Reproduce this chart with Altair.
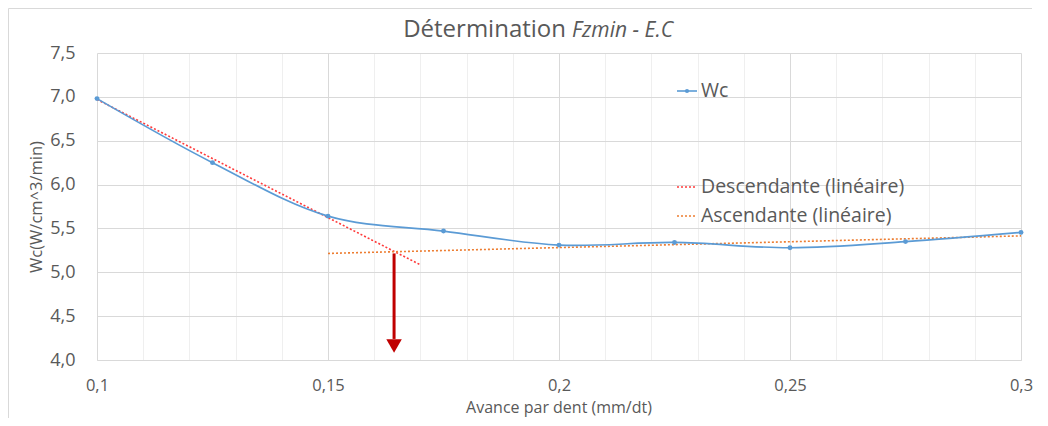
import altair as alt
import pandas as pd

# ---- data ----
x_vals = [0.1, 0.125, 0.15, 0.175, 0.2, 0.225, 0.25, 0.275, 0.3]
wc_vals = [6.98, 6.25, 5.64, 5.47, 5.31, 5.34, 5.28, 5.35, 5.455]

desc_x = [0.1, 0.17]
desc_y = [6.97, 5.085]
asc_x = [0.15, 0.3]
asc_y = [5.215, 5.415]

arrow_x = [0.1643]
arrow_top = [5.215]
arrow_bottom = [4.24]
arrow_head = [4.16]

x_ticks = [0.1, 0.11, 0.12, 0.13, 0.14, 0.15, 0.16, 0.17, 0.18, 0.19, 0.2,
           0.21, 0.22, 0.23, 0.24, 0.25, 0.26, 0.27, 0.28, 0.29, 0.3]
y_ticks = [4.0, 4.5, 5.0, 5.5, 6.0, 6.5, 7.0, 7.5]

title_main = "Détermination"
title_italic = "Fzmin - E.C"
x_title = "Avance par dent (mm/dt)"
y_title = "Wc(W/cm^3/min)"
legend_labels = ["Wc", "Descendante (linéaire)", "Ascendante (linéaire)"]

FONT = "Open Sans"
TXT = "#595959"
BLUE = "#5B9BD5"
RED = "#FF3B3B"
ORANGE = "#ED7D31"
DARKRED = "#C00000"

df_wc = pd.DataFrame({"x": x_vals, "y": wc_vals})
df_desc = pd.DataFrame({"x": desc_x, "y": desc_y})
df_asc = pd.DataFrame({"x": asc_x, "y": asc_y})
df_arrow = pd.DataFrame({"x": arrow_x, "y": arrow_top, "y2": arrow_bottom, "yh": arrow_head})

major_test = "abs(datum.value*20 - round(datum.value*20)) < 0.001"

xscale = alt.Scale(domain=[0.1, 0.3], nice=False, zero=False)
yscale = alt.Scale(domain=[4.0, 7.5], nice=False, zero=False)

xaxis = alt.Axis(
    values=x_ticks,
    labelExpr=f"({major_test}) ? replace(toString(datum.value), '.', ',') : ''",
    gridColor={"condition": {"test": major_test, "value": "#d9d9d9"}, "value": "#efefef"},
    ticks=False,
    domainColor="#d9d9d9",
    labelFont=FONT, labelFontSize=16.5, labelColor=TXT, labelPadding=17,
    title=None,
    labelFlush=False,
)
yaxis = alt.Axis(
    values=y_ticks,
    labelExpr="replace(format(datum.value, '.1f'), '.', ',')",
    gridColor="#d9d9d9",
    ticks=False, domain=False,
    labelFont=FONT, labelFontSize=18, labelColor=TXT, labelPadding=22,
    title=y_title, titleFont=FONT, titleFontSize=16.5, titleColor=TXT,
    titleFontWeight="normal", titlePadding=5,
)

X = alt.X("x:Q", scale=xscale, axis=xaxis)
Y = alt.Y("y:Q", scale=yscale, axis=yaxis)

wc_line = alt.Chart(df_wc).mark_line(
    interpolate="catmull-rom", color=BLUE, strokeWidth=1.7
).encode(x=X, y=Y)
wc_pts = alt.Chart(df_wc).mark_point(
    filled=True, color=BLUE, size=24, opacity=1
).encode(x=X, y=Y)

desc_line = alt.Chart(df_desc).mark_line(
    color=RED, strokeWidth=1.6, strokeDash=[2, 2]
).encode(x=X, y=Y)
asc_line = alt.Chart(df_asc).mark_line(
    color=ORANGE, strokeWidth=1.6, strokeDash=[2, 2]
).encode(x=X, y=Y)

arrow_rule = alt.Chart(df_arrow).mark_rule(color=DARKRED, strokeWidth=3).encode(
    x=X, y=Y, y2="y2:Q"
)
arrow_tip = alt.Chart(df_arrow).mark_point(
    shape="triangle-down", filled=True, color=DARKRED, size=240, opacity=1
).encode(x=X, y=alt.Y("yh:Q", scale=yscale, axis=yaxis))

one = pd.DataFrame({"a": [0]})

# chart border (top and left edges visible in the reference)
border_top = alt.Chart(one).mark_rule(color="#d9d9d9", strokeWidth=1).encode(
    x=alt.value(-88.5), x2=alt.value(935), y=alt.value(-44.5)
)
border_left = alt.Chart(one).mark_rule(color="#d9d9d9", strokeWidth=1).encode(
    x=alt.value(-88.5), y=alt.value(-44.5), y2=alt.value(370)
)


def text(label, x, y, size, align="left", style="normal", baseline="middle"):
    return alt.Chart(one).mark_text(
        text=label, font=FONT, fontSize=size, color=TXT, align=align,
        baseline=baseline, fontStyle=style
    ).encode(x=alt.value(x), y=alt.value(y))


title1 = text(title_main, 469, -16, 24, align="right", baseline="alphabetic")
title2 = text(title_italic, 475, -16, 21, align="left", style="italic", baseline="alphabetic")

# x-axis title (drawn as text for precise placement)
x_title_t = text(x_title, 462, 354.5, 16, align="center")


def leg_rule(color, y, dash=None):
    kw = dict(color=color, strokeWidth=1.6)
    if dash:
        kw["strokeDash"] = dash
    return alt.Chart(one).mark_rule(**kw).encode(
        x=alt.value(580), x2=alt.value(600), y=alt.value(y)
    )


leg_wc = leg_rule(BLUE, 38)
leg_wc_pt = alt.Chart(one).mark_point(filled=True, color=BLUE, size=18, opacity=1).encode(
    x=alt.value(590), y=alt.value(38)
)
leg_wc_t = text(legend_labels[0], 604, 38, 19.5)
leg_d = leg_rule(RED, 134, [2, 2])
leg_d_t = text(legend_labels[1], 604, 134, 19.5)
leg_a = leg_rule(ORANGE, 163, [2, 2])
leg_a_t = text(legend_labels[2], 604, 163, 19.5)

chart = alt.layer(
    border_top, border_left, desc_line, asc_line, wc_line, wc_pts, arrow_rule, arrow_tip,
    title1, title2, x_title_t, leg_wc, leg_wc_pt, leg_wc_t, leg_d, leg_d_t, leg_a, leg_a_t,
).properties(
    width=924, height=307,
    padding={"left": 89, "top": 45, "right": 18, "bottom": 58},
    autosize=alt.AutoSizeParams(type="none"),
    background="white",
).configure_view(stroke=None)

chart.save("out.html", embed_options={"renderer": "svg", "actions": False})
